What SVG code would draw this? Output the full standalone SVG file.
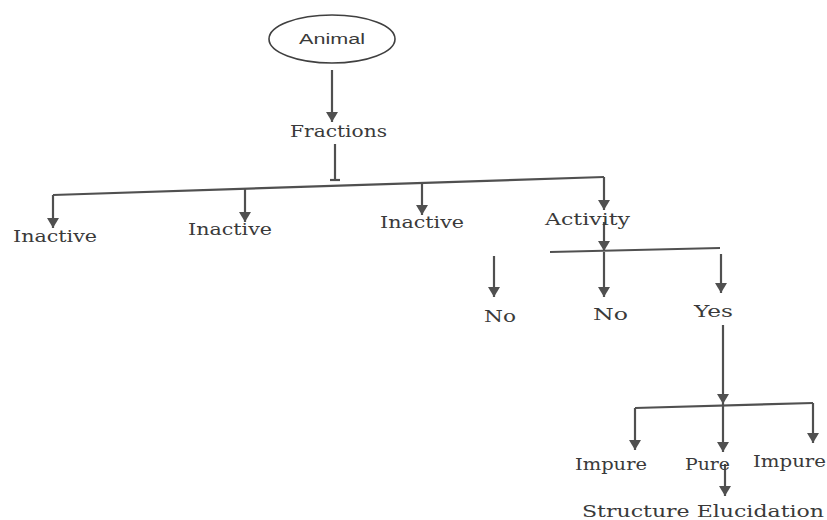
<svg xmlns="http://www.w3.org/2000/svg" width="827" height="520" viewBox="0 0 827 520">
<style>
.lbl{font-family:"DejaVu Serif","Liberation Serif",serif;font-size:17px;fill:#3a3a3a}
.c{stroke:#505050;stroke-width:2.2;fill:none}
.a{marker-end:url(#ah)}
</style>
<defs>
<marker id="ah" markerUnits="userSpaceOnUse" markerWidth="12" markerHeight="12" refX="10" refY="6" orient="auto">
<path d="M0,0 L10,6 L0,12 z" fill="#505050"/>
</marker>
</defs>
<rect width="827" height="520" fill="#ffffff"/>
<g id="connectors">
<line class="c a" x1="332" y1="70" x2="332" y2="122"/>
<line class="c" x1="335" y1="144" x2="335" y2="180"/>
<line class="c" x1="330" y1="180" x2="340" y2="180"/>
<line class="c" x1="53" y1="195" x2="604" y2="177"/>
<line class="c a" x1="53" y1="195" x2="53" y2="228"/>
<line class="c a" x1="245" y1="189" x2="245" y2="222"/>
<line class="c a" x1="422" y1="183" x2="422" y2="215"/>
<line class="c a" x1="604" y1="177" x2="604" y2="210"/>
<line class="c a" x1="604" y1="222" x2="604" y2="251"/>
<line class="c" x1="550" y1="252" x2="720" y2="248"/>
<line class="c a" x1="494" y1="256" x2="494" y2="297"/>
<line class="c a" x1="604" y1="252" x2="604" y2="297"/>
<line class="c a" x1="721" y1="254" x2="721" y2="293"/>
<line class="c a" x1="723" y1="325" x2="723" y2="404"/>
<line class="c" x1="635" y1="408" x2="813" y2="403"/>
<line class="c a" x1="635" y1="408" x2="635" y2="450"/>
<line class="c a" x1="723" y1="404" x2="723" y2="452"/>
<line class="c a" x1="813" y1="403" x2="813" y2="443"/>
<line class="c a" x1="725" y1="464" x2="725" y2="496"/>
</g>
<g id="animal">
<ellipse cx="332" cy="39" rx="63" ry="24" fill="none" stroke="#404040" stroke-width="1.6"/>
<text x="299" y="44" font-family="'Liberation Sans',Arial,sans-serif" font-size="14" fill="#3a3a3a" textLength="66" lengthAdjust="spacingAndGlyphs">Animal</text>
</g>
<g id="fractions"><text class="lbl" x="290" y="137" textLength="97" lengthAdjust="spacingAndGlyphs">Fractions</text></g>
<g id="inactive1"><text class="lbl" x="13" y="242" textLength="84" lengthAdjust="spacingAndGlyphs">Inactive</text></g>
<g id="inactive2"><text class="lbl" x="188" y="235" textLength="84" lengthAdjust="spacingAndGlyphs">Inactive</text></g>
<g id="inactive3"><text class="lbl" x="380" y="228" textLength="84" lengthAdjust="spacingAndGlyphs">Inactive</text></g>
<g id="activity"><text class="lbl" x="545" y="225" textLength="85" lengthAdjust="spacingAndGlyphs">Activity</text></g>
<g id="no1"><text class="lbl" x="484" y="322" textLength="32" lengthAdjust="spacingAndGlyphs">No</text></g>
<g id="no2"><text class="lbl" x="593" y="320" textLength="35" lengthAdjust="spacingAndGlyphs">No</text></g>
<g id="yes"><text class="lbl" x="694" y="317" textLength="39" lengthAdjust="spacingAndGlyphs">Yes</text></g>
<g id="impure1"><text class="lbl" x="575" y="470" textLength="72" lengthAdjust="spacingAndGlyphs">Impure</text></g>
<g id="pure"><text class="lbl" x="685" y="470" textLength="45" lengthAdjust="spacingAndGlyphs">Pure</text></g>
<g id="impure2"><text class="lbl" x="753" y="467" textLength="73" lengthAdjust="spacingAndGlyphs">Impure</text></g>
<g id="structure"><text class="lbl" x="582" y="517" textLength="242" lengthAdjust="spacingAndGlyphs">Structure Elucidation</text></g>
</svg>
